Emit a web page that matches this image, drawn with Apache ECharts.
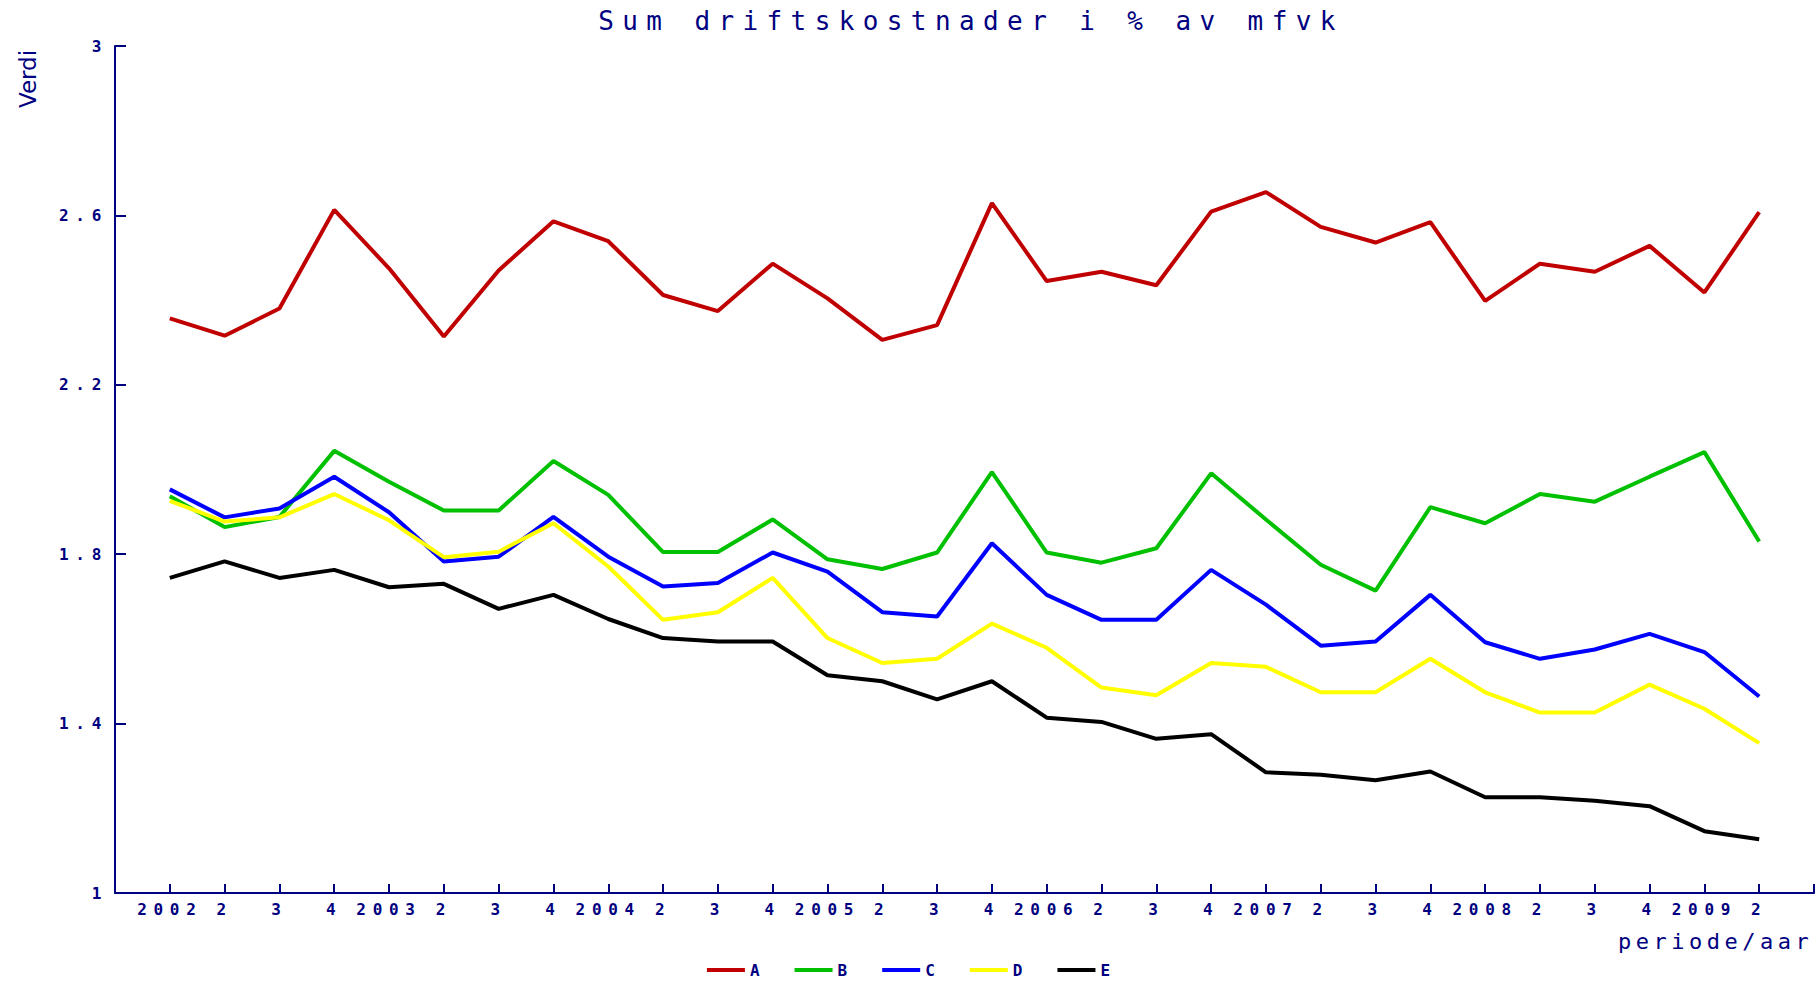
<!DOCTYPE html>
<html>
<head>
<meta charset="utf-8">
<title>Sum driftskostnader i % av mfvk</title>
<script src="https://cdn.jsdelivr.net/npm/echarts@6/dist/echarts.min.js"></script>
<style>
  html, body { margin: 0; padding: 0; background: #fff; }
  #chart { width: 1817px; height: 983px; }
  /* the original pixel font is spaced out a lot */
  #chart text[style*="26px"] { letter-spacing: 8.4px; }
  #chart text[style*="16px"] { letter-spacing: 6.7px; }
  #chart text[style*="22px"] { letter-spacing: 4.5px; }
</style>
</head>
<body>
<div id="chart"></div>
<script>
const periods = ['2002', '2', '3', '4', '2003', '2', '3', '4', '2004', '2', '3', '4',
  '2005', '2', '3', '4', '2006', '2', '3', '4', '2007', '2', '3', '4',
  '2008', '2', '3', '4', '2009', '2'];

const valA = [2.357, 2.316, 2.380, 2.613, 2.475, 2.314, 2.470, 2.586, 2.539, 2.412,
  2.374, 2.486, 2.404, 2.306, 2.341, 2.629, 2.445, 2.467, 2.435, 2.609,
  2.655, 2.573, 2.536, 2.584, 2.398, 2.486, 2.467, 2.528, 2.418, 2.608];
const valB = [1.937, 1.864, 1.888, 2.044, 1.971, 1.903, 1.903, 2.020, 1.940, 1.805,
  1.805, 1.882, 1.788, 1.765, 1.804, 1.994, 1.804, 1.780, 1.814, 1.991,
  1.882, 1.775, 1.714, 1.911, 1.873, 1.942, 1.924, 1.983, 2.041, 1.830];
const valC = [1.953, 1.887, 1.908, 1.983, 1.899, 1.783, 1.794, 1.888, 1.794, 1.724,
  1.732, 1.804, 1.759, 1.663, 1.653, 1.826, 1.704, 1.645, 1.645, 1.763,
  1.681, 1.584, 1.594, 1.704, 1.592, 1.553, 1.575, 1.612, 1.569, 1.464];
const valD = [1.926, 1.877, 1.887, 1.942, 1.880, 1.793, 1.806, 1.873, 1.771, 1.645,
  1.663, 1.744, 1.602, 1.543, 1.553, 1.636, 1.579, 1.485, 1.467, 1.543,
  1.534, 1.474, 1.474, 1.553, 1.474, 1.426, 1.426, 1.492, 1.435, 1.354];
const valE = [1.744, 1.783, 1.744, 1.763, 1.722, 1.730, 1.671, 1.704, 1.647, 1.602,
  1.594, 1.594, 1.514, 1.500, 1.457, 1.500, 1.414, 1.404, 1.364, 1.375,
  1.285, 1.279, 1.266, 1.287, 1.226, 1.226, 1.218, 1.205, 1.146, 1.127];

const seriesNames = ['A', 'B', 'C', 'D', 'E'];
const seriesColors = ['#c00000', '#00c000', '#0000ff', '#ffff00', '#000000'];
const seriesValues = [valA, valB, valC, valD, valE];

const navy = '#000080';
const mono = '"DejaVu Sans Mono", "Liberation Mono", monospace';

const chart = echarts.init(document.getElementById('chart'), null, { renderer: 'svg' });

// periods sit at 1..30 on the x axis, the axis runs from 0 to 31
const toPoints = (vals) => vals.map((v, i) => [i + 1, v]);

chart.setOption({
  animation: false,
  backgroundColor: '#fff',
  title: {
    text: 'Sum driftskostnader i % av mfvk',
    left: 966,
    top: 3,
    textAlign: 'center',
    textStyle: { color: navy, fontFamily: mono, fontSize: 26, fontWeight: 'normal' },
  },
  legend: {
    data: seriesNames,
    left: 'center',
    top: 962,
    padding: 0,
    icon: 'rect',
    itemWidth: 38,
    itemHeight: 4,
    itemGap: 35,
    textStyle: { color: navy, fontFamily: mono, fontSize: 16, fontWeight: 'bold' },
  },
  grid: { left: 115, right: 0, top: 46, bottom: 90, containLabel: false },
  xAxis: {
    type: 'value',
    min: 0,
    max: 31,
    interval: 1,
    splitLine: { show: false },
    axisLine: { lineStyle: { color: navy, width: 2 } },
    axisTick: { inside: true, length: 9, lineStyle: { color: navy, width: 2 } },
    axisLabel: {
      color: navy,
      fontFamily: mono,
      fontSize: 16,
      fontWeight: 'bold',
      margin: 8,
      formatter: (v) => periods[v - 1] || '',
    },
  },
  yAxis: {
    type: 'value',
    min: 1,
    max: 3,
    interval: 0.4,
    splitLine: { show: false },
    axisLine: { show: true, lineStyle: { color: navy, width: 2 } },
    axisTick: { show: true, inside: true, length: 11, lineStyle: { color: navy, width: 2 } },
    axisLabel: {
      color: navy,
      fontFamily: mono,
      fontSize: 16,
      fontWeight: 'bold',
      margin: 7,
    },
  },
  graphic: [
    {
      type: 'text',
      x: 28,
      y: 79,
      rotation: Math.PI / 2,
      style: {
        text: 'Verdi',
        fill: navy,
        font: 'normal 23px "DejaVu Sans", sans-serif',
        align: 'center',
        verticalAlign: 'middle',
      },
    },
    {
      type: 'text',
      x: 1618,
      y: 941,
      style: {
        text: 'periode/aar',
        fill: navy,
        font: 'normal 22px ' + mono,
        align: 'left',
        verticalAlign: 'middle',
      },
    },
  ],
  series: seriesNames.map((name, k) => ({
    name,
    type: 'line',
    data: toPoints(seriesValues[k]),
    showSymbol: false,
    symbol: 'none',
    color: seriesColors[k],
    lineStyle: { color: seriesColors[k], width: 4 },
  })),
});
</script>
</body>
</html>
